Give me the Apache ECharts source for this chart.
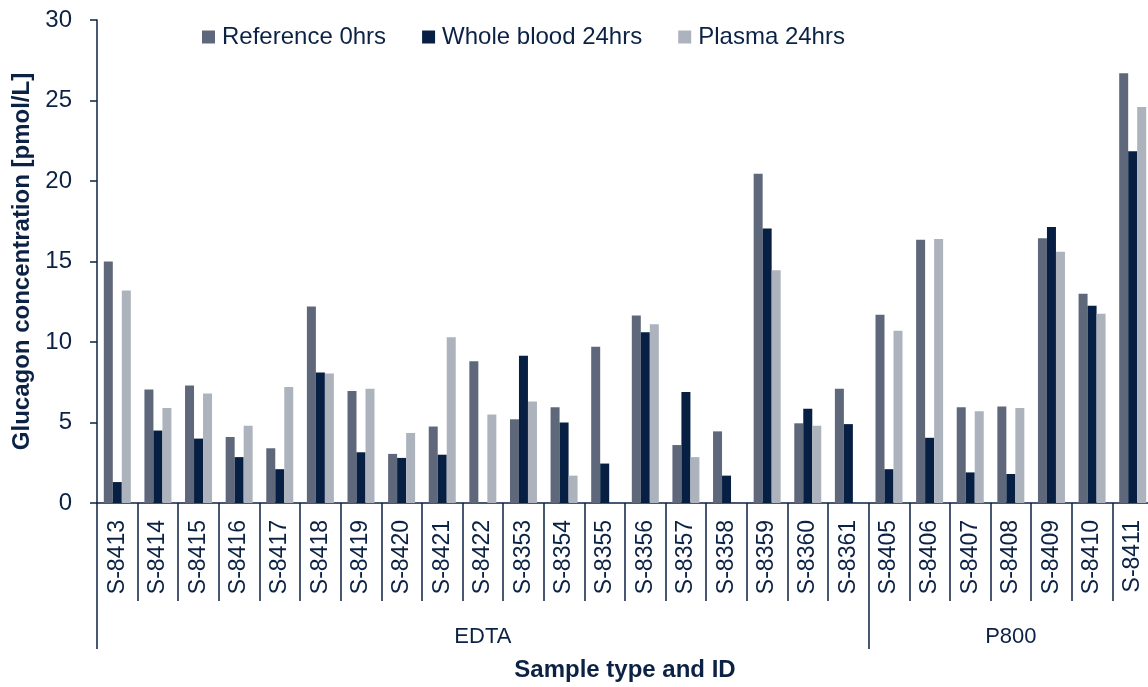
<!DOCTYPE html>
<html>
<head>
<meta charset="utf-8">
<title>Glucagon concentration</title>
<script src="https://cdn.jsdelivr.net/npm/echarts@6/dist/echarts.min.js"></script>
<style>
  html, body { margin: 0; padding: 0; background: #fff; overflow: hidden; }
  /* 原图右侧被裁掉一点，画布比窗口稍宽 */
  #chart { width: 1160px; height: 687px; }
</style>
</head>
<body>
<div id="chart"></div>
<script>
  // 样本编号
  var categories = ['S-8413', 'S-8414', 'S-8415', 'S-8416', 'S-8417', 'S-8418', 'S-8419', 'S-8420', 'S-8421', 'S-8422',
    'S-8353', 'S-8354', 'S-8355', 'S-8356', 'S-8357', 'S-8358', 'S-8359', 'S-8360', 'S-8361',
    'S-8405', 'S-8406', 'S-8407', 'S-8408', 'S-8409', 'S-8410', 'S-8411'];

  // 样本类型分组（名称 + 包含的样本数）
  var groupNames = ['EDTA', 'P800'];
  var groupSizes = [19, 7];

  var seriesNames = ['Reference 0hrs', 'Whole blood 24hrs', 'Plasma 24hrs'];
  var reference0 = [15.0, 7.05, 7.3, 4.1, 3.4, 12.2, 6.95, 3.05, 4.75, 8.8, 5.2, 5.95, 9.7, 11.65, 3.6, 4.45, 20.45, 4.95, 7.1,
    11.7, 16.35, 5.95, 6.0, 16.45, 13.0, 26.7];
  var wholeBlood24 = [1.3, 4.5, 4.0, 2.85, 2.1, 8.1, 3.15, 2.8, 3.0, null, 9.15, 5.0, 2.45, 10.6, 6.9, 1.7, 17.05, 5.85, 4.9,
    2.1, 4.05, 1.9, 1.8, 17.15, 12.25, 21.85];
  var plasma24 = [13.2, 5.9, 6.8, 4.8, 7.2, 8.05, 7.1, 4.35, 10.3, 5.5, 6.3, 1.7, null, 11.1, 2.85, null, 14.45, 4.8, null,
    10.7, 16.4, 5.7, 5.9, 15.6, 11.75, 24.6];

  var yTicks = [0, 5, 10, 15, 20, 25, 30];

  var textColor = '#0c2245';
  var colors = ['#5f687b', '#061f42', '#adb3bd'];

  // 第二条 x 轴：组名放在每组中间，刻度只在组边界
  var groupAxisData = [], groupBounds = [], start = 0;
  groupNames.forEach(function (name, g) {
    groupBounds.push(start);
    for (var i = 0; i < groupSizes[g]; i++) {
      groupAxisData.push(i === Math.floor(groupSizes[g] / 2) ? name : '');
    }
    start += groupSizes[g];
  });

  var chart = echarts.init(document.getElementById('chart'));

  var makeBar = function (name, data, idx) {
    return {
      name: name,
      type: 'bar',
      data: data,
      barWidth: 9,
      barGap: '0%',
      xAxisIndex: 0,
      itemStyle: { color: colors[idx] }
    };
  };

  var option = {
    animation: false,
    color: colors,
    textStyle: { fontFamily: 'Liberation Sans, Arial, sans-serif', color: textColor },
    legend: {
      left: 202,
      top: 25,
      padding: 0,
      icon: 'rect',
      itemWidth: 13,
      itemHeight: 13,
      itemGap: 36,
      textStyle: { color: textColor, fontSize: 24, padding: [0, 0, 0, 2] },
      data: seriesNames
    },
    grid: {
      left: 97,
      top: 20,
      right: 7,
      bottom: 184,
      containLabel: false
    },
    xAxis: [{
      type: 'category',
      data: categories,
      position: 'bottom',
      name: 'Sample type and ID',
      nameLocation: 'middle',
      nameGap: 155,
      nameTextStyle: { color: textColor, fontSize: 24, fontWeight: 'bold' },
      axisLine: { lineStyle: { color: textColor, width: 1.5 } },
      axisTick: { show: true, interval: 0, length: 98, lineStyle: { color: textColor, width: 1.5 } },
      axisLabel: { interval: 0, rotate: 90, fontSize: 23, color: textColor, margin: 17 }
    }, {
      type: 'category',
      data: groupAxisData,
      position: 'bottom',
      axisLine: { show: false },
      axisTick: {
        show: true,
        length: 146,
        interval: function (index) { return groupBounds.indexOf(index) >= 0; },
        lineStyle: { color: textColor, width: 1.5 }
      },
      axisLabel: { interval: 0, fontSize: 22, color: textColor, margin: 123 }
    }],
    yAxis: {
      type: 'value',
      min: yTicks[0],
      max: yTicks[yTicks.length - 1],
      interval: yTicks[1] - yTicks[0],
      name: 'Glucagon concentration [pmol/L]',
      nameLocation: 'middle',
      nameGap: 62,
      nameTextStyle: { color: textColor, fontSize: 24, fontWeight: 'bold' },
      axisLine: { show: true, lineStyle: { color: textColor, width: 1.5 } },
      axisTick: { show: true, length: 7, lineStyle: { color: textColor, width: 1.5 } },
      axisLabel: { fontSize: 24, color: textColor, margin: 25 },
      splitLine: { show: false }
    },
    series: [
      makeBar(seriesNames[0], reference0, 0),
      makeBar(seriesNames[1], wholeBlood24, 1),
      makeBar(seriesNames[2], plasma24, 2)
    ]
  };

  chart.setOption(option);
</script>
</body>
</html>
